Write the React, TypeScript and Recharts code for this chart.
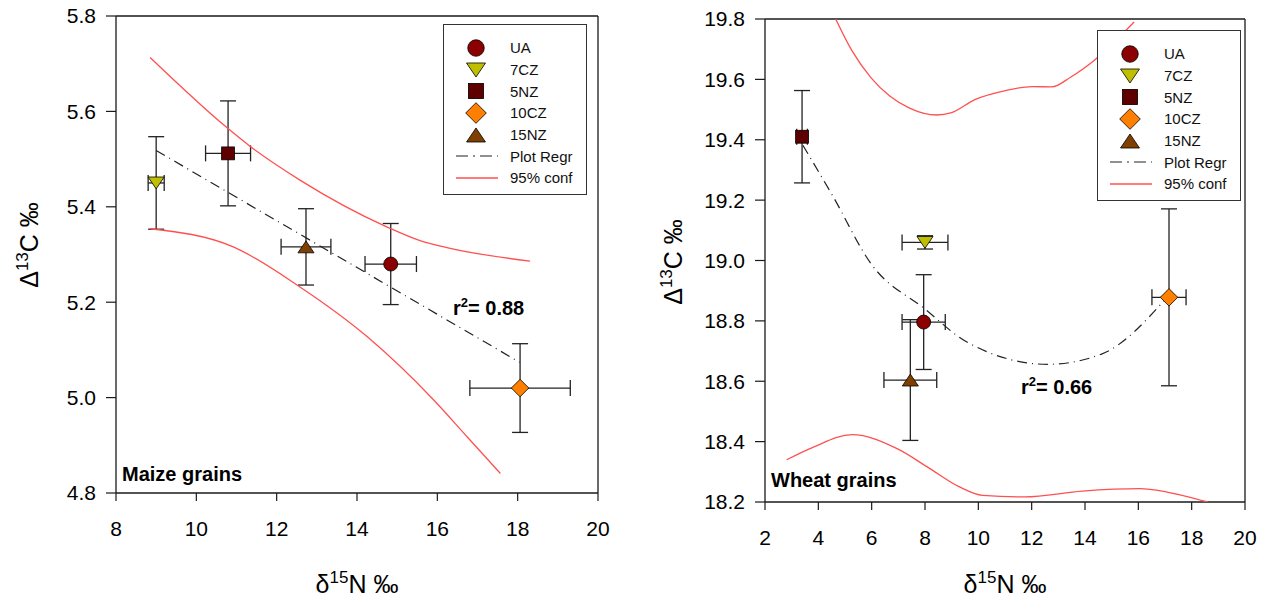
import React from 'react';
import { ScatterChart, Scatter, XAxis, YAxis, ErrorBar, Legend, ReferenceLine } from 'recharts';

// series order: UA, 7CZ, 5NZ, 10CZ, 15NZ
const SERIES_NAMES = ['UA', '7CZ', '5NZ', '10CZ', '15NZ'];

// maize grains
const MAIZE_N15 = [14.84, 9.0, 10.79, 18.06, 12.73];
const MAIZE_C13 = [5.28, 5.45, 5.512, 5.02, 5.316];
const MAIZE_N15_ERR = [0.64, 0.2, 0.56, 1.25, 0.62];
const MAIZE_C13_ERR = [0.085, 0.097, 0.11, 0.093, 0.08];
const MAIZE_REGR_X = [9.0, 18.05];
const MAIZE_REGR_Y = [5.518, 5.074];
const MAIZE_UPPER_X = [8.85, 10.76, 11.35, 12.58, 14.74, 15.57, 16.32, 18.31];
const MAIZE_UPPER_Y = [5.713, 5.566, 5.526, 5.456, 5.358, 5.329, 5.313, 5.286];
const MAIZE_LOWER_X = [8.85, 10.92, 12.58, 14.25, 15.91, 16.74, 17.57];
const MAIZE_LOWER_Y = [5.354, 5.316, 5.232, 5.128, 4.995, 4.918, 4.841];

// wheat grains
const WHEAT_N15 = [7.95, 8.0, 3.39, 17.15, 7.45];
const WHEAT_C13 = [18.796, 19.06, 19.41, 18.878, 18.604];
const WHEAT_N15_ERR = [0.81, 0.86, 0.2, 0.64, 0.99];
const WHEAT_C13_ERR = [0.157, 0.022, 0.153, 0.293, 0.2];
const WHEAT_REGR_X = [3.42, 4.54, 5.97, 7.99, 9.57, 12.6, 14.62, 17.1];
const WHEAT_REGR_Y = [19.382, 19.214, 18.99, 18.84, 18.73, 18.656, 18.69, 18.88];
const WHEAT_UPPER_X = [4.65, 5.26, 5.97, 6.69, 7.42, 8.43, 9.0, 9.87, 11.02, 12.03, 12.75, 13.47, 14.33, 15.84];
const WHEAT_UPPER_Y = [19.8, 19.695, 19.606, 19.544, 19.505, 19.482, 19.49, 19.533, 19.563, 19.576, 19.575, 19.608, 19.662, 19.79];
const WHEAT_LOWER_X = [2.81, 3.82, 5.26, 6.99, 8.14, 9.29, 10.16, 11.74, 13.9, 16.06, 17.07, 18.6];
const WHEAT_LOWER_Y = [18.34, 18.382, 18.423, 18.375, 18.313, 18.25, 18.222, 18.217, 18.236, 18.244, 18.233, 18.2];

const MAIZE_X_TICKS = [8, 10, 12, 14, 16, 18, 20];
const MAIZE_Y_TICKS = [4.8, 5.0, 5.2, 5.4, 5.6, 5.8];
const WHEAT_X_TICKS = [2, 4, 6, 8, 10, 12, 14, 16, 18, 20];
const WHEAT_Y_TICKS = [18.2, 18.4, 18.6, 18.8, 19.0, 19.2, 19.4, 19.6, 19.8];

const COLORS = ['#8B0000', '#BFBF00', '#5E0000', '#FF8000', '#7F3F00'];
const SHAPES = ['circle', 'triDown', 'square', 'diamond', 'triUp'];
const FONT = '"Liberation Sans", Arial, sans-serif';
const INK = '#1a1a1a';
const RED = '#FF5050';
const REGR_DASH = '10 5 1 5';

function Marker({ kind, cx, cy, s, fill }: { kind: string; cx: number; cy: number; s: number; fill: string }) {
  const common = { fill, stroke: '#000', strokeWidth: 0.8 };
  const h = s / 2;
  if (kind === 'circle') return <circle cx={cx} cy={cy} r={h} {...common} />;
  if (kind === 'square') return <rect x={cx - h * 0.92} y={cy - h * 0.92} width={s * 0.92} height={s * 0.92} {...common} />;
  if (kind === 'diamond') {
    const d = h * 1.25;
    return <polygon points={`${cx},${cy - d} ${cx + d},${cy} ${cx},${cy + d} ${cx - d},${cy}`} {...common} />;
  }
  const w = h * 1.15;
  const t = h * 0.85;
  if (kind === 'triDown') return <polygon points={`${cx - w},${cy - t} ${cx + w},${cy - t} ${cx},${cy + t}`} {...common} />;
  return <polygon points={`${cx - w},${cy + t} ${cx + w},${cy + t} ${cx},${cy - t}`} {...common} />;
}

const Empty = () => <g />;

function LegendBox() {
  const row = { display: 'flex', alignItems: 'center', height: 21.7 } as const;
  return (
    <div
      style={{
        width: 144,
        height: 171,
        boxSizing: 'border-box',
        border: '1.5px solid #333',
        background: '#fff',
        paddingTop: 12,
        fontFamily: FONT,
        fontSize: 15,
        color: '#111',
      }}
    >
      {SERIES_NAMES.map((name, i) => (
        <div key={name} style={row}>
          <svg width={66} height={22}>
            <Marker kind={SHAPES[i]} cx={32} cy={11} s={16.5} fill={COLORS[i]} />
          </svg>
          <span>{name}</span>
        </div>
      ))}
      <div style={row}>
        <svg width={66} height={22}>
          <line x1={12} x2={54} y1={11} y2={11} stroke="#222" strokeWidth={1.2} strokeDasharray="12 5 2 5" />
        </svg>
        <span>Plot Regr</span>
      </div>
      <div style={row}>
        <svg width={66} height={22}>
          <line x1={12} x2={54} y1={11} y2={11} stroke={RED} strokeWidth={1.5} />
        </svg>
        <span>95% conf</span>
      </div>
    </div>
  );
}

type PanelProps = {
  left: number;
  width: number;
  margin: { top: number; right: number; bottom: number; left: number };
  yAxisWidth: number;
  xDomain: [number, number];
  yDomain: [number, number];
  xTicks: number[];
  yTicks: number[];
  xs: number[];
  ys: number[];
  exs: number[];
  eys: number[];
  regr: { x: number; y: number }[];
  upper: { x: number; y: number }[];
  lower: { x: number; y: number }[];
  label: string;
  labelPos: [number, number];
  r2: string;
  r2Pos: [number, number];
  yTitlePos: [number, number];
  xTitlePos: [number, number];
  legendPos: [number, number];
  regrCurve: 'linear' | 'monotoneX';
};

const toCurve = (xs: number[], ys: number[]) => xs.map((x, i) => ({ x, y: ys[i] }));

function Panel(p: PanelProps) {
  return (
    <div style={{ position: 'absolute', left: p.left, top: 0 }}>
      <ScatterChart width={p.width} height={603} margin={p.margin}>
        <XAxis
          type="number"
          dataKey="x"
          domain={p.xDomain}
          ticks={p.xTicks}
          allowDataOverflow
          height={60}
          tickSize={8}
          tickMargin={20}
          axisLine={{ stroke: INK, strokeWidth: 1.3 }}
          tickLine={{ stroke: INK, strokeWidth: 1.2 }}
          tick={{ fill: '#000', fontSize: 21, fontFamily: FONT }}
        />
        <YAxis
          type="number"
          dataKey="y"
          domain={p.yDomain}
          ticks={p.yTicks}
          allowDataOverflow
          width={p.yAxisWidth}
          tickSize={10}
          tickMargin={10}
          tickFormatter={(v: number) => v.toFixed(1)}
          axisLine={{ stroke: INK, strokeWidth: 1.3 }}
          tickLine={{ stroke: INK, strokeWidth: 1.2 }}
          tick={{ fill: '#000', fontSize: 21, fontFamily: FONT }}
        />
        <ReferenceLine y={p.yDomain[1]} stroke={INK} strokeWidth={1.3} />
        <ReferenceLine x={p.xDomain[1]} stroke={INK} strokeWidth={1.3} />
        <Scatter
          data={p.upper}
          line={{ stroke: RED, strokeWidth: 1.3 }}
          lineJointType="monotoneX"
          shape={Empty}
          legendType="none"
          isAnimationActive={false}
        />
        <Scatter
          data={p.lower}
          line={{ stroke: RED, strokeWidth: 1.3 }}
          lineJointType="monotoneX"
          shape={Empty}
          legendType="none"
          isAnimationActive={false}
        />
        <Scatter
          data={p.regr}
          line={{ stroke: '#222', strokeWidth: 1.2, strokeDasharray: REGR_DASH }}
          lineJointType={p.regrCurve}
          shape={Empty}
          legendType="none"
          isAnimationActive={false}
        />
        {SERIES_NAMES.map((name, i) => (
          <Scatter
            key={name}
            name={name}
            data={[{ x: p.xs[i], y: p.ys[i], ex: p.exs[i], ey: p.eys[i] }]}
            fill={COLORS[i]}
            isAnimationActive={false}
            shape={(sp: any) => <Marker kind={SHAPES[i]} cx={sp.cx} cy={sp.cy} s={14} fill={COLORS[i]} />}
          >
            <ErrorBar dataKey="ex" direction="x" width={8} stroke="#222" strokeWidth={1.3} />
            <ErrorBar dataKey="ey" direction="y" width={8} stroke="#222" strokeWidth={1.3} />
          </Scatter>
        ))}
        <Legend
          layout="vertical"
          align="center"
          verticalAlign="middle"
          wrapperStyle={{ position: 'absolute', left: p.legendPos[0], top: p.legendPos[1], width: 144, height: 171 }}
          content={() => <LegendBox />}
        />
        <text x={p.labelPos[0]} y={p.labelPos[1]} fontFamily={FONT} fontWeight="bold" fontSize={20} fill="#000">
          {p.label}
        </text>
        <text x={p.r2Pos[0]} y={p.r2Pos[1]} fontFamily={FONT} fontWeight="bold" fontSize={20} fill="#000">
          r<tspan dy={-8} fontSize={13}>2</tspan>
          <tspan dy={8}>= {p.r2}</tspan>
        </text>
        <text
          x={p.yTitlePos[0]}
          y={p.yTitlePos[1]}
          transform={`rotate(-90, ${p.yTitlePos[0]}, ${p.yTitlePos[1]})`}
          textAnchor="middle"
          fontFamily={FONT}
          fontSize={25}
          fill="#000"
        >
          Δ<tspan dy={-10} fontSize={17}>13</tspan>
          <tspan dy={10}>C ‰</tspan>
        </text>
        <text
          x={p.xTitlePos[0]}
          y={p.xTitlePos[1]}
          textAnchor="middle"
          fontFamily={FONT}
          fontSize={25}
          fill="#000"
        >
          δ<tspan dy={-10} fontSize={17}>15</tspan>
          <tspan dy={10}>N ‰</tspan>
        </text>
      </ScatterChart>
    </div>
  );
}

export default function App() {
  return (
    <div style={{ position: 'absolute', left: 0, top: 0, width: 1266, height: 603, background: '#fff' }}>
      <Panel
        left={0}
        width={630}
        margin={{ top: 16, right: 32, bottom: 50, left: 0 }}
        yAxisWidth={116}
        xDomain={[8, 20]}
        yDomain={[4.8, 5.8]}
        xTicks={MAIZE_X_TICKS}
        yTicks={MAIZE_Y_TICKS}
        xs={MAIZE_N15}
        ys={MAIZE_C13}
        exs={MAIZE_N15_ERR}
        eys={MAIZE_C13_ERR}
        regr={toCurve(MAIZE_REGR_X, MAIZE_REGR_Y)}
        upper={toCurve(MAIZE_UPPER_X, MAIZE_UPPER_Y)}
        lower={toCurve(MAIZE_LOWER_X, MAIZE_LOWER_Y)}
        label="Maize grains"
        labelPos={[122, 481]}
        r2="0.88"
        r2Pos={[453, 315]}
        yTitlePos={[38, 245]}
        xTitlePos={[357, 593]}
        legendPos={[443, 24]}
        regrCurve="linear"
      />
      <Panel
        left={640}
        width={626}
        margin={{ top: 19, right: 21, bottom: 41, left: 0 }}
        yAxisWidth={125}
        xDomain={[2, 20]}
        yDomain={[18.2, 19.8]}
        xTicks={WHEAT_X_TICKS}
        yTicks={WHEAT_Y_TICKS}
        xs={WHEAT_N15}
        ys={WHEAT_C13}
        exs={WHEAT_N15_ERR}
        eys={WHEAT_C13_ERR}
        regr={toCurve(WHEAT_REGR_X, WHEAT_REGR_Y)}
        upper={toCurve(WHEAT_UPPER_X, WHEAT_UPPER_Y)}
        lower={toCurve(WHEAT_LOWER_X, WHEAT_LOWER_Y)}
        label="Wheat grains"
        labelPos={[131, 487]}
        r2="0.66"
        r2Pos={[381, 394]}
        yTitlePos={[42, 262]}
        xTitlePos={[365, 593]}
        legendPos={[457, 30]}
        regrCurve="monotoneX"
      />
    </div>
  );
}
